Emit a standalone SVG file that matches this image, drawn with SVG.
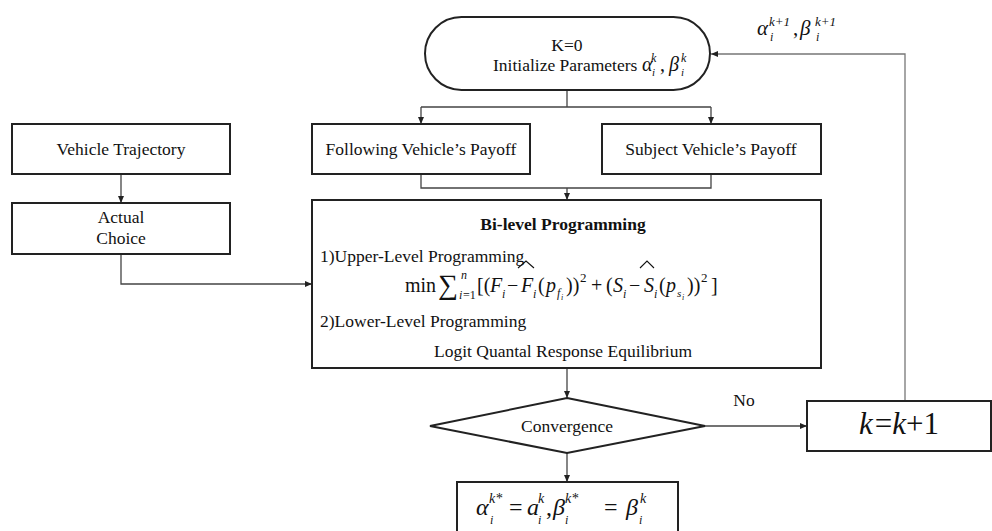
<svg xmlns="http://www.w3.org/2000/svg" width="992" height="531" viewBox="0 0 992 531">
  <defs>
    <marker id="arrow" markerWidth="8" markerHeight="8" refX="7" refY="4" orient="auto" markerUnits="userSpaceOnUse">
      <path d="M0,1 L7,4 L0,7 z" fill="#222"/>
    </marker>
  </defs>
  <style>
    .box{fill:#fff;stroke:#222;stroke-width:2}
    .conn{fill:none;stroke:#444;stroke-width:1.3}
    .fb{fill:none;stroke:#777;stroke-width:1.3}
    .hat{fill:none;stroke:#111;stroke-width:1.1}
    text{font-family:"Liberation Serif","Times New Roman",serif;fill:#111}
    .lbl{font-size:17.5px;text-anchor:middle}
    .m{font-style:italic}
  </style>

  <rect width="992" height="531" fill="#fff"/>

  <!-- connectors -->
  <g id="connectors">
    <path class="conn" d="M567,90 V107 M421,107 H711"/>
    <path class="conn" d="M421,107 V124" marker-end="url(#arrow)"/>
    <path class="conn" d="M711,107 V124" marker-end="url(#arrow)"/>
    <path class="conn" d="M121,174 V203" marker-end="url(#arrow)"/>
    <path class="conn" d="M421,174 V188 H711 V174"/>
    <path class="conn" d="M567,188 V200" marker-end="url(#arrow)"/>
    <path class="conn" d="M121,254 V284 H312" marker-end="url(#arrow)"/>
    <path class="conn" d="M567,368 V398" marker-end="url(#arrow)"/>
    <path class="conn" d="M705,426 H807" marker-end="url(#arrow)"/>
    <path class="fb" d="M905,401 V54 H711" marker-end="url(#arrow)"/>
    <path class="conn" d="M567,453 V482" marker-end="url(#arrow)"/>
  </g>

  <!-- start terminal -->
  <g id="start">
    <rect class="box" x="425" y="17" width="285" height="73" rx="36.5"/>
    <text class="lbl" x="567" y="51">K=0</text>
    <text font-size="17.5" x="493" y="71">Initialize Parameters</text>
    <text font-size="20" class="m">
      <tspan x="642" y="71">α</tspan>
      <tspan x="651" y="62" font-size="12">k</tspan>
      <tspan x="652" y="76" font-size="11">i</tspan>
      <tspan x="660" y="71" font-style="normal">,</tspan>
      <tspan x="669" y="71">β</tspan>
      <tspan x="681" y="62" font-size="12">k</tspan>
      <tspan x="681" y="76" font-size="11">i</tspan>
    </text>
  </g>

  <!-- feedback label -->
  <g id="update-label">
    <text font-size="21" class="m">
      <tspan x="757" y="35">α</tspan>
      <tspan x="769" y="26" font-size="13">k+1</tspan>
      <tspan x="770" y="41" font-size="12">i</tspan>
      <tspan x="793" y="35" font-style="normal">,</tspan>
      <tspan x="800" y="35">β</tspan>
      <tspan x="815" y="26" font-size="13">k+1</tspan>
      <tspan x="816" y="41" font-size="12">i</tspan>
    </text>
  </g>

  <g id="vehicle-trajectory">
    <rect class="box" x="12" y="124" width="218" height="50"/>
    <text class="lbl" x="121" y="155">Vehicle Trajectory</text>
  </g>

  <g id="actual-choice">
    <rect class="box" x="12" y="203" width="218" height="51"/>
    <text class="lbl" x="121" y="223">Actual</text>
    <text class="lbl" x="121" y="244">Choice</text>
  </g>

  <g id="following-payoff">
    <rect class="box" x="312" y="124" width="218" height="50"/>
    <text class="lbl" x="421" y="155">Following Vehicle’s Payoff</text>
  </g>

  <g id="subject-payoff">
    <rect class="box" x="602" y="124" width="219" height="50"/>
    <text class="lbl" x="711" y="155">Subject Vehicle’s Payoff</text>
  </g>

  <g id="bilevel">
    <rect class="box" x="312" y="200" width="509" height="168"/>
    <text class="lbl" x="563" y="230" font-weight="bold">Bi-level Programming</text>
    <text font-size="17.5" x="320" y="262">1)Upper-Level Programming</text>
    <text font-size="20">
      <tspan x="405" y="292">min</tspan>
      <tspan x="438" y="294" font-size="28">∑</tspan>
      <tspan x="461" y="279" font-size="12" class="m">n</tspan>
      <tspan x="459" y="299" font-size="12" class="m">i</tspan>
      <tspan x="463" y="299" font-size="12">=1</tspan>
      <tspan x="477" y="292">[(</tspan>
      <tspan x="490" y="292" class="m">F</tspan>
      <tspan x="502" y="298" font-size="12" class="m">i</tspan>
      <tspan x="507" y="292">−</tspan>
      <tspan x="521" y="292" class="m">F</tspan>
      <tspan x="533" y="298" font-size="12" class="m">i</tspan>
      <tspan x="538" y="292">(</tspan>
      <tspan x="546" y="292" class="m">p</tspan>
      <tspan x="557" y="297" font-size="12" class="m">f</tspan>
      <tspan x="561" y="300" font-size="8" class="m">i</tspan>
      <tspan x="566" y="292">))</tspan>
      <tspan x="580" y="282" font-size="13">2</tspan>
      <tspan x="591" y="292">+</tspan>
      <tspan x="606" y="292">(</tspan>
      <tspan x="613" y="292" class="m">S</tspan>
      <tspan x="623" y="298" font-size="12" class="m">i</tspan>
      <tspan x="629" y="292">−</tspan>
      <tspan x="644" y="292" class="m">S</tspan>
      <tspan x="654" y="298" font-size="12" class="m">i</tspan>
      <tspan x="659" y="292">(</tspan>
      <tspan x="666" y="292" class="m">p</tspan>
      <tspan x="677" y="297" font-size="11" class="m">s</tspan>
      <tspan x="682" y="300" font-size="8" class="m">i</tspan>
      <tspan x="687" y="292">))</tspan>
      <tspan x="701" y="282" font-size="13">2</tspan>
      <tspan x="711" y="292">]</tspan>
    </text>
    <!-- wide hats over the estimated terms -->
    <path class="hat" d="M518,268 L526,261 L534,268"/>
    <path class="hat" d="M640,268 L647,261 L654,268"/>
    <text font-size="17.5" x="320" y="327">2)Lower-Level Programming</text>
    <text class="lbl" x="563" y="357">Logit Quantal Response Equilibrium</text>
  </g>

  <g id="convergence">
    <polygon class="box" points="567,398 705,426 567,453 430,426"/>
    <text class="lbl" x="567" y="432">Convergence</text>
  </g>
  <text class="lbl" x="744" y="406">No</text>

  <g id="increment">
    <rect class="box" x="807" y="401" width="184" height="50"/>
    <text font-size="31" x="859" y="434">
      <tspan class="m">k</tspan><tspan dx="2">=</tspan><tspan class="m">k</tspan><tspan>+1</tspan>
    </text>
  </g>

  <g id="result">
    <rect class="box" x="457" y="482" width="221" height="60"/>
    <text font-size="24" class="m">
      <tspan x="476" y="515">α</tspan>
      <tspan x="489" y="503" font-size="14">k*</tspan>
      <tspan x="490" y="524" font-size="12">i</tspan>
      <tspan x="509" y="515" font-style="normal">=</tspan>
      <tspan x="527" y="515">a</tspan>
      <tspan x="538" y="503" font-size="14">k</tspan>
      <tspan x="538" y="524" font-size="12">i</tspan>
      <tspan x="546" y="515" font-style="normal">,</tspan>
      <tspan x="553" y="515">β</tspan>
      <tspan x="565" y="503" font-size="14">k*</tspan>
      <tspan x="565" y="524" font-size="12">i</tspan>
      <tspan x="604" y="515" font-style="normal">=</tspan>
      <tspan x="626" y="515">β</tspan>
      <tspan x="640" y="503" font-size="14">k</tspan>
      <tspan x="639" y="524" font-size="12">i</tspan>
    </text>
  </g>
</svg>
